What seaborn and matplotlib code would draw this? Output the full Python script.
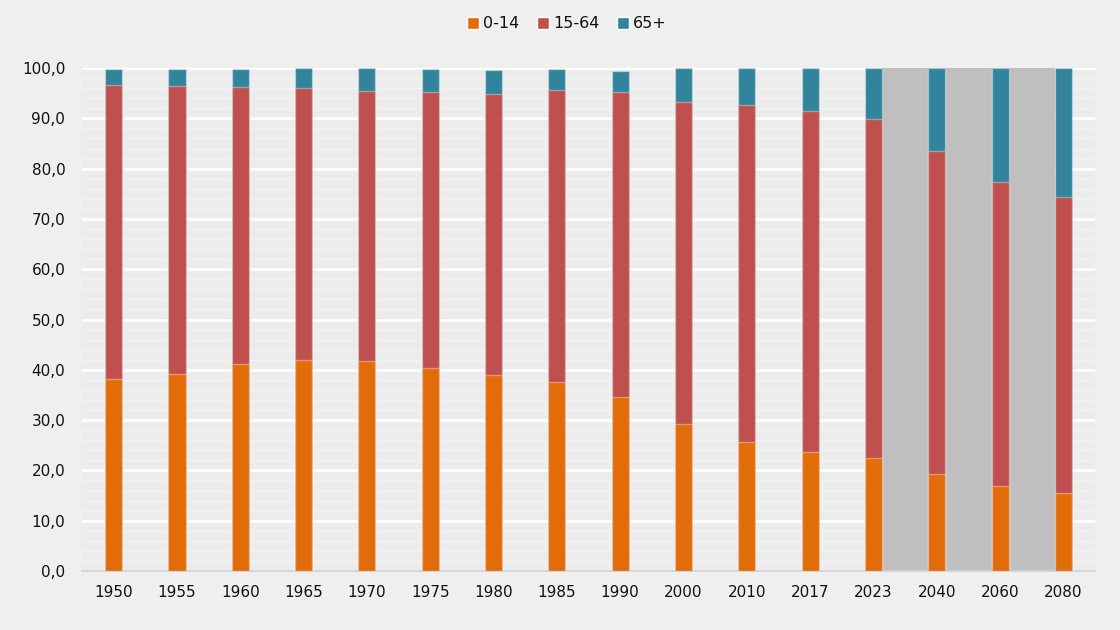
import pandas as pd
import matplotlib
matplotlib.use("Agg")
import matplotlib.pyplot as plt
import seaborn as sns
from matplotlib.ticker import FuncFormatter, MultipleLocator, FixedLocator
from matplotlib.patches import Patch

# Data (share of population by age group, %)
years = ["1950", "1955", "1960", "1965", "1970", "1975", "1980", "1985",
         "1990", "2000", "2010", "2017", "2023", "2040", "2060", "2080"]
age_0_14 = [38.2, 39.2, 41.1, 41.9, 41.7, 40.4, 39.0, 37.5,
            34.5, 29.2, 25.6, 23.6, 22.5, 19.2, 16.8, 15.6]
age_15_64 = [58.4, 57.2, 55.2, 54.1, 53.8, 54.8, 55.9, 58.1,
             60.7, 64.0, 67.1, 67.9, 67.3, 64.4, 60.5, 58.8]
age_65 = [3.3, 3.4, 3.5, 4.0, 4.5, 4.6, 4.7, 4.2,
          4.3, 6.8, 7.3, 8.5, 10.2, 16.4, 22.7, 25.6]
series_names = ["0-14", "15-64", "65+"]
colors = ["#E36C0A", "#C0504D", "#31849B"]

df = pd.DataFrame({"year": years, "a": age_0_14, "b": age_15_64, "c": age_65})
df["cum_b"] = df["a"] + df["b"]
df["cum_c"] = df["cum_b"] + df["c"]

sns.set_theme(style="white")
plt.rcParams['font.family'] = ['DejaVu Sans']

fig = plt.figure(figsize=(11.2, 6.3), dpi=100, facecolor="#efefef")
ax = fig.add_axes([0.0732, 0.0937, 0.9045, 0.7983])
ax.set_facecolor("#ececec")

bw = 0.27
edge = (1, 1, 1, 0.35)
# stacked bars drawn from the top down, each layer cumulative
sns.barplot(data=df, x="year", y="cum_c", color=colors[2], width=bw,
            edgecolor=edge, linewidth=1, saturation=1, ax=ax, zorder=3)
sns.barplot(data=df, x="year", y="cum_b", color=colors[1], width=bw,
            edgecolor=edge, linewidth=1, saturation=1, ax=ax, zorder=3)
sns.barplot(data=df, x="year", y="a", color=colors[0], width=bw,
            edgecolor=edge, linewidth=1, saturation=1, ax=ax, zorder=3)

# projection shading (between 2023 and 2080 bars)
ax.axvspan(years.index("2023") + bw / 2, years.index("2080") - bw / 2,
           color="#bfbfbf", zorder=2, lw=0)

ax.set_xlim(-0.5, len(years) - 0.5)
ax.set_ylim(0, 100)
ax.yaxis.set_major_locator(MultipleLocator(10))
ax.yaxis.set_minor_locator(MultipleLocator(2))
ax.yaxis.set_major_formatter(FuncFormatter(lambda v, p: f"{v:.1f}".replace(".", ",")))
ax.grid(axis="y", which="major", color="white", linewidth=2, zorder=0)
ax.grid(axis="y", which="minor", color="#f3f3f3", linewidth=1, zorder=0)
ax.set_axisbelow(True)

ax.xaxis.set_minor_locator(FixedLocator([i - 0.5 for i in range(len(years) + 1)]))
ax.tick_params(axis="x", which="major", length=0, pad=10, labelsize=11, labelcolor="#111111")
ax.tick_params(axis="x", which="minor", length=5, color="#d0d0d0", width=1.2)
ax.tick_params(axis="y", which="both", length=0, pad=12, labelsize=11, labelcolor="#111111")

for s in ["top", "right", "left"]:
    ax.spines[s].set_visible(False)
ax.spines["bottom"].set_color("#d0d0d0")
ax.spines["bottom"].set_linewidth(1.2)
ax.set_xlabel("")
ax.set_ylabel("")

handles = [Patch(facecolor=c, label=n) for c, n in zip(colors, series_names)]
fig.legend(handles=handles, loc="center", bbox_to_anchor=(0.506, 0.962), ncol=3,
           frameon=False, fontsize=11.5, handlelength=0.75, handleheight=0.75,
           handletextpad=0.25, columnspacing=1.1, labelcolor="#111111")

fig.savefig("out.png", dpi=100, facecolor=fig.get_facecolor())
